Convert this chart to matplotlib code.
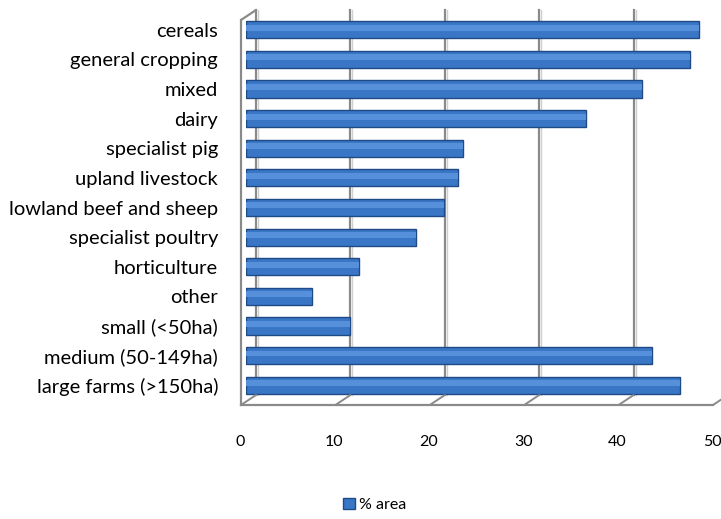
import matplotlib
matplotlib.use("Agg")
import matplotlib.pyplot as plt
import matplotlib.transforms as mtransforms
from matplotlib.patches import Patch

categories = ["cereals", "general cropping", "mixed", "dairy", "specialist pig",
              "upland livestock", "lowland beef and sheep", "specialist poultry",
              "horticulture", "other", "small (<50ha)", "medium (50-149ha)",
              "large farms (>150ha)"]
area = [48, 47, 42, 36, 23, 22.5, 21, 18, 12, 7, 11, 43, 46]
xticks = [0, 10, 20, 30, 40, 50]

plt.rcParams['font.family'] = ['Lato', 'DejaVu Sans']

fig = plt.figure(figsize=(7.21, 5.19), dpi=100)
ax = fig.add_axes([246/721, 1-400/519, 472/721, 385/519])

pos = list(range(len(categories)))
ax.barh(pos, area, height=0.58, color='#3A76C6', edgecolor='#1E4A86', linewidth=1.0, zorder=3)
# lighter strip for the shaded look
ax.barh([p - 0.07 for p in pos], area, height=0.2, color='#5690DA', linewidth=0, zorder=4)

ax.set_xlim(0, 50)
ax.set_ylim(len(categories) - 0.5, -0.5)
ax.set_yticks(pos)
ax.set_yticklabels(categories, fontsize=14.5)
ax.set_xticks(xticks)
ax.set_xticklabels([str(t) for t in xticks], fontsize=11.5)
ax.tick_params(axis='y', length=0, pad=20)
ax.tick_params(axis='x', length=0, pad=25)
for s in ax.spines.values():
    s.set_visible(False)

def shift(dx, dy):
    return mtransforms.ScaledTranslation(dx/100, dy/100, fig.dpi_scale_trans)

for lab in ax.get_xticklabels():
    lab.set_transform(lab.get_transform() + shift(-6, 0))

bl = mtransforms.blended_transform_factory(ax.transData, ax.transAxes)
grey = '#8A8A8A'

# back wall gridlines
for t in xticks[:-1]:
    ax.plot([t, t], [0, 1], color=grey, lw=1.6, transform=bl + shift(10, 5),
            clip_on=False, zorder=1)
    ax.plot([t, t], [0, 1], color='#D0D0D0', lw=1.0, transform=bl + shift(12, 5),
            clip_on=False, zorder=0.9)

# left wall
ax.plot([0, 0], [0, 1], color=grey, lw=1.6, transform=bl + shift(-5, -5), clip_on=False, zorder=2)
ax.annotate("", xy=(0, 1), xycoords=bl + shift(10, 5), xytext=(0, 1),
            textcoords=bl + shift(-5, -5),
            arrowprops=dict(arrowstyle='-', color=grey, lw=1.6, shrinkA=0, shrinkB=0))

# floor front edge and depth ticks
ax.plot([0, 50], [0, 0], color=grey, lw=1.6, transform=bl + shift(-5, -5), clip_on=False, zorder=2)
for t in xticks:
    ax.annotate("", xy=(t, 0), xycoords=bl + shift(10, 5), xytext=(t, 0),
                textcoords=bl + shift(-5, -5),
                arrowprops=dict(arrowstyle='-', color=grey, lw=1.4, shrinkA=0, shrinkB=0))

fig.legend(handles=[Patch(facecolor='#3A76C6', edgecolor='#1E4A86', label='% area')],
           loc='center', bbox_to_anchor=(375/721, 1-505/519), frameon=False,
           fontsize=11.5, handlelength=0.7, handleheight=0.7, handletextpad=0.3)

fig.savefig("out.png", dpi=100)
